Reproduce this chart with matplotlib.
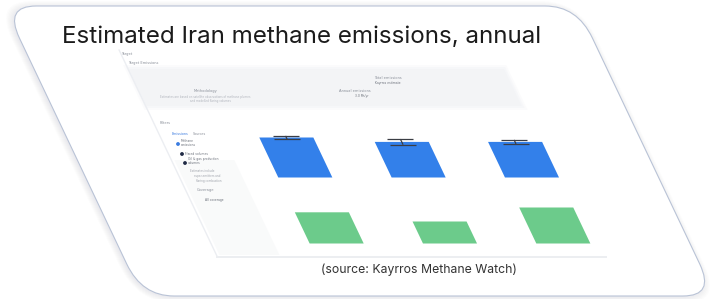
import numpy as np
import matplotlib
matplotlib.use('Agg')
import matplotlib.pyplot as plt
from matplotlib.patches import FancyBboxPatch, Rectangle
from matplotlib.transforms import Affine2D

# data (units: Mt CH4 / year, estimated)
years = ['2019', '2020', '2021']
total_emissions = [5.0, 4.45, 4.45]
total_err = [0.2, 0.35, 0.25]
flaring_emissions = [3.9, 2.75, 4.5]

title = 'Estimated Iran methane emissions, annual'
source = '(source: Kayrros Methane Watch)'

BLUE = '#3380ea'
GREEN = '#6ccb8b'
K = 0.475          # shear of the screenshot (px right per px down)
W, H = 719, 299
YREF = H - 243.5   # shear pivot in display px


def shear():
    return Affine2D().translate(0, -YREF).skew(np.arctan(-K), 0).translate(0, YREF)


def skew_one(art):
    if hasattr(art, 'get_data_transform'):
        art.set_transform(art.get_data_transform() + shear())
    else:
        art.set_transform(art.get_transform() + shear())
    art.set_clip_on(False)


def skew_artists(ax):
    for art in list(ax.patches) + list(ax.lines) + list(ax.collections):
        skew_one(art)


fig = plt.figure(figsize=(W / 100, H / 100), dpi=100)
fig.patch.set_facecolor('white')

# background layer in pixel coords (y down)
bg = fig.add_axes([0, 0, 1, 1])
bg.set_xlim(0, W)
bg.set_ylim(H, 0)
bg.axis('off')

# soft shadow + card
for i in range(7):
    sp = FancyBboxPatch((117 - 2 - i, 6 + 1 - i), 573 + 2 * i, 290 + 2 * i,
                        boxstyle='round,pad=0,rounding_size=%d' % (32 + i),
                        fc='#5a6478', ec='none', alpha=0.016)
    bg.add_patch(sp)
card = FancyBboxPatch((117, 6), 573, 290, boxstyle='round,pad=0,rounding_size=32',
                      fc='white', ec='#b9c3d6', lw=0.8)
bg.add_patch(card)

# dashboard fragments inside the card (faint)
for a, pad in [(0.3, 4), (0.45, 2), (0.7, 0)]:
    bg.add_patch(Rectangle((212 - pad, 69 - pad), 375 + 2 * pad, 37 + 2 * pad,
                           fc='#f2f3f6', ec='none', alpha=a))
bg.plot([211, 211], [50, 257], color='#eceef2', lw=1.0)
bg.plot([211, 600], [257, 257], color='#eceef1', lw=1.4)
bg.add_patch(Rectangle((214, 160), 60, 95, fc='#f6f7f8', ec='none', alpha=0.6))
skew_artists(bg)

tiny = dict(fontsize=2.6, color='#8a8f99')
bg.text(121, 55, 'Target', **tiny)
bg.text(128, 64, 'Target Emissions', **tiny)
bg.text(205, 92, 'Methodology', ha='center', **tiny)
bg.text(205, 98, 'Estimates are based on satellite observations of methane plumes', ha='center', fontsize=2.0, color='#b0b4bc')
bg.text(210, 102, 'and modelled flaring volumes', ha='center', fontsize=2.0, color='#b0b4bc')
bg.text(355, 92, 'Annual emissions', ha='center', **tiny)
bg.text(362, 97, '3.0 Mt/yr', ha='center', fontsize=2.2, color='#6a6f79')
bg.text(388, 79, 'Total emissions', ha='center', **tiny)
bg.text(388, 84, 'Kayrros estimate', ha='center', fontsize=2.2, color='#6a6f79')
bg.text(160, 124, 'Filters', **tiny)
bg.text(172, 135, 'Emissions', fontsize=2.4, color='#3a7be0')
bg.text(193, 135, 'Sources', fontsize=2.4, color='#8a8f99')
bg.scatter([178, 182, 185], [144, 154, 163], s=3, c=['#3a7be0', '#1f2a44', '#1f2a44'])
bg.text(181, 146, 'Methane\nemissions', fontsize=2.2, color='#6a6f79', linespacing=0.9)
bg.text(185, 155, 'Flared volumes', fontsize=2.2, color='#6a6f79')
bg.text(188, 164, 'Oil & gas production\nvolumes', fontsize=2.2, color='#6a6f79', linespacing=0.9)
bg.text(190, 172, 'Estimates include', fontsize=2.0, color='#a0a4ac')
bg.text(194, 177, 'super-emitters and', fontsize=2.0, color='#a0a4ac')
bg.text(196, 182, 'flaring combustion', fontsize=2.0, color='#a0a4ac')
bg.text(197, 191, 'Coverage', **tiny)
bg.text(205, 201, 'All coverage', fontsize=2.2, color='#6a6f79')

# bar panels (drawn upright, then sheared like the screenshot)
x = np.arange(len(years))
ax_top = fig.add_axes([280 / W, (H - 177.5) / H, 340 / W, 60 / H])
ax_bot = fig.add_axes([280 / W, (H - 243.5) / H, 340 / W, 60 / H])
for ax in (ax_top, ax_bot):
    ax.set_xlim(-0.5, 2.5)
    ax.set_ylim(0, 7.5)
    ax.axis('off')

ax_top.bar(x, total_emissions, width=0.477, color=BLUE)
ax_top.errorbar(x, total_emissions, yerr=total_err, fmt='none', ecolor='#3a3d44',
                elinewidth=0.9, capsize=9.5, capthick=0.9)
ax_bot.bar(x, flaring_emissions, width=0.477, color=GREEN)
skew_artists(ax_top)
skew_artists(ax_bot)

fig.text(62 / W, 1 - 37 / H, title, fontsize=17.4, family=['Inter', 'DejaVu Sans'],
         color='#1b1b1b', va='center', ha='left')
fig.text(419 / W, 1 - 270 / H, source, fontsize=8.8, family=['Inter', 'DejaVu Sans'],
         color='#333333', va='center', ha='center')

fig.savefig('out.png', dpi=100)
